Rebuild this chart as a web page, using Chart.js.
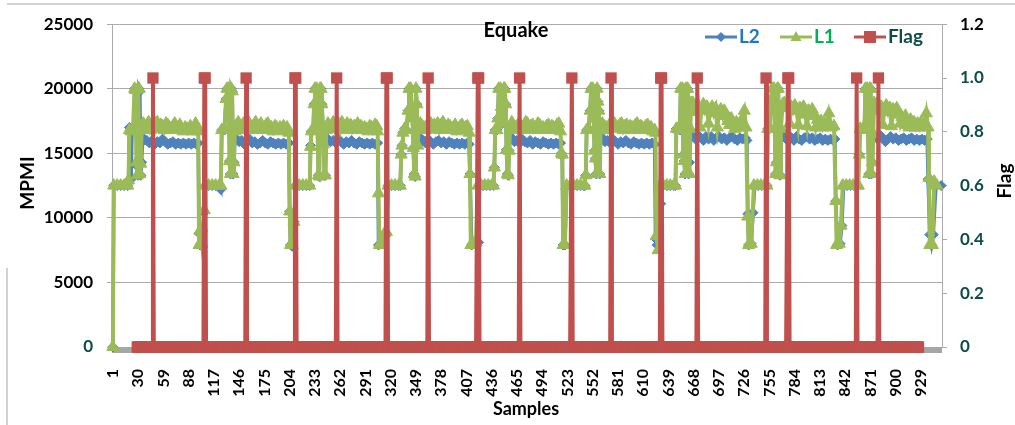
<!DOCTYPE html>
<html>
<head>
<meta charset="utf-8">
<title>Equake</title>
<script src="https://cdn.jsdelivr.net/npm/chart.js@4.4.1/dist/chart.umd.min.js"></script>
<style>
  html, body { margin: 0; padding: 0; background: #fff; }
  #wrap { width: 1015px; height: 425px; }
</style>
</head>
<body>
<div id="wrap"><canvas id="chart" width="1015" height="425"></canvas></div>
<script>
// sample numbers printed under the x axis
const xTickLabels = [1, 30, 59, 88, 117, 146, 175, 204, 233, 262, 291, 320, 349, 378, 407, 436, 465,
  494, 523, 552, 581, 610, 639, 668, 697, 726, 755, 784, 813, 842, 871, 900, 929];

// L2 readings, [sample, MPMI]
const l2Points = [
  [1,0],[2,12500],[6,12500],[10,12500],[14,12500],[18,12500],
  [19,12900],[20,17000],[22,13000],[23,16800],[25,16800],[26,20000],[28,20000],[29,14000],[30,13300],[31,20000],[32,19800],[33,13300],[34,14300],[35,15900],
  [37,16100],[40,16000],[43,15800],[46,16000],[49,15700],[52,15900],[55,15800],[58,16100],[61,15900],[64,15700],[67,15800],[70,15900],[73,15700],[76,15800],[79,15700],[82,15800],[85,15700],[88,15800],[91,15700],[94,15800],[97,15700],[99,15800],
  [100,8800],[101,7900],[104,9000],[106,10400],[107,12500],[111,12500],[115,12500],[119,12500],[123,12500],
  [125,12200],[126,16800],[129,16800],[131,19200],[132,20000],[134,20000],[135,14400],[136,13400],[137,20000],[138,19800],[139,13400],[140,14300],[141,16000],
  [143,16100],[146,15900],[149,16000],[152,15700],[155,15900],[158,16100],[161,15800],[164,15900],[167,15700],[170,15800],[173,16000],[176,15800],[179,15700],[182,15900],[185,15800],[188,15700],[191,15800],[194,15700],[197,15800],[200,15700],[203,15800],
  [204,10500],[205,7900],[207,7800],[209,9700],[211,12500],[215,12500],[219,12500],[223,12500],[227,12500],
  [228,15600],[229,16700],[231,16800],[232,18800],[233,20000],[235,20000],[236,16800],[237,13300],[238,13200],[239,20000],[240,20000],[241,18800],[243,15700],[244,13300],[245,13300],[246,16000],
  [248,16100],[251,15900],[254,16000],[257,15800],[260,16100],[263,15900],[266,15700],[269,15900],[272,15800],[275,16000],[278,15800],[281,15700],[284,15900],[287,15800],[290,15700],[293,15800],[296,15700],[299,15800],[302,15700],[305,15800],
  [306,7900],[309,8000],[313,8800],[315,8800],[317,12500],[321,12500],[325,12500],[329,12500],
  [331,12500],[332,14900],[333,15600],[334,16600],[336,16900],[338,16800],[340,18300],[341,20000],[343,20000],[345,17700],[346,15400],[347,13400],[348,13200],[349,20000],[350,18800],[351,15600],[352,16100],
  [354,16200],[357,16000],[360,15800],[363,16100],[366,15900],[369,15700],[372,15900],[375,16000],[378,15800],[381,15900],[384,15700],[387,15900],[390,15800],[393,15700],[396,15800],[399,15700],[402,15800],[405,15700],[408,15800],[410,15700],
  [411,13400],[413,7900],[419,8000],[421,8100],[422,12500],[426,12500],[430,12500],[434,12500],[438,12500],
  [439,13900],[440,16800],[442,16800],[443,17700],[444,20000],[446,20000],[447,18600],[448,17300],[450,20000],[451,20000],[452,18800],[453,15300],[454,13400],[455,13300],[456,15200],[457,16100],
  [459,16200],[462,15900],[465,16000],[468,15800],[471,16100],[474,15900],[477,15800],[480,16000],[483,15700],[486,15900],[489,15800],[492,15700],[495,15900],[498,15800],[501,15700],[504,15800],[507,15700],[510,15800],[513,15700],[515,15800],
  [516,15000],[517,14800],[518,7900],[520,7900],[522,12500],[526,12500],[530,12500],[534,12500],[538,12500],[542,12500],
  [543,12500],[544,13300],[545,16800],[547,16900],[549,18300],[550,20000],[552,20000],[553,17700],[554,15200],[555,14600],[556,13400],[557,20000],[558,19000],[559,18300],[560,13400],[561,16100],
  [563,16200],[566,15900],[569,16000],[572,15800],[575,16100],[578,15900],[581,15700],[584,15900],[587,15800],[590,16000],[593,15800],[596,15700],[599,15900],[602,15800],[605,15700],[608,15800],[611,15700],[614,15800],[617,15700],[620,15800],[623,15700],
  [624,8400],[626,7900],[628,8300],[630,11100],[632,12500],[637,12500],[641,12500],[645,12500],
  [647,12500],[648,16900],[650,16900],[652,16800],[653,20000],[655,20000],[656,14900],[657,14400],[658,13400],[659,20000],[661,20000],[662,13400],[663,14300],[664,16300],
  [667,16300],[670,16100],[673,16400],[676,16200],[679,16000],[682,16300],[685,16100],[688,16300],[691,16000],[694,16200],[697,16300],[700,16100],[703,16200],[706,16000],[709,16200],[712,16300],[715,16100],[718,16000],[721,16200],[724,16100],[727,16200],[729,16000],
  [730,10300],[731,7900],[734,8000],[736,10400],[738,12500],[742,12500],[746,12500],[750,12500],[752,12500],
  [753,16900],[755,16900],[757,19200],[758,20000],[760,20000],[761,16900],[762,13400],[763,14300],[764,20000],[765,20000],[766,13400],[767,13300],[768,16300],
  [771,16300],[774,16100],[777,16400],[780,16200],[783,16000],[786,16300],[789,16100],[792,16000],[795,16200],[798,16300],[801,16100],[804,16200],[807,16000],[810,16100],[813,16200],[816,16000],[819,16100],[822,16000],[825,16100],[828,16000],[830,16100],
  [831,11300],[833,7900],[836,8000],[838,9400],[840,12500],[844,12500],[848,12500],[852,12500],[856,12500],
  [858,14900],[859,16900],[862,16900],[864,17000],[865,20000],[867,20000],[868,16800],[869,13400],[870,20000],[871,20000],[872,13400],[873,14300],[874,16300],
  [876,16300],[879,16100],[882,16400],[885,16200],[888,15900],[891,16100],[894,16300],[897,16100],[900,16200],[903,16000],[906,16100],[909,16200],[912,16000],[915,16100],[918,16200],[921,16000],[924,16100],[927,16000],[930,16100],[933,16000],[936,16100],
  [937,13000],[939,8700],[941,7900],[943,8700],[946,12500],[952,12500]
];

// L1 readings, [sample, MPMI]
const l1Points = [
  [1,0],[2,12500],[6,12500],[10,12500],[14,12500],[18,12500],
  [19,12900],[20,16800],[22,16700],[24,16800],[26,20000],[27,19900],[28,14300],[29,13300],[30,20000],[31,20000],[32,13400],[33,14200],[34,16800],
  [36,17300],[38,16900],[40,17200],[42,17400],[44,16800],[46,17100],[48,17000],[50,17300],[52,17400],[54,16900],[56,17200],[58,17100],[60,16800],[62,17300],[64,17200],[66,17000],[68,16800],[70,17100],[72,17300],[74,16900],[76,17000],[78,17200],[80,16800],[82,16700],[84,17000],[86,16900],[88,16800],[90,17100],[92,16700],[94,16900],[96,17300],[98,17000],[99,16700],
  [100,7900],[101,9000],[103,8000],[106,10600],[107,12500],[111,12500],[115,12500],[119,12500],[123,12500],
  [125,12500],[126,16800],[129,16800],[131,19200],[132,20000],[134,20000],[135,14400],[136,13400],[137,20000],[138,19800],[139,13400],[140,14300],[141,16700],
  [143,17200],[145,17400],[147,16900],[149,17100],[151,17300],[153,16800],[155,17200],[157,17400],[159,17000],[161,16800],[163,17200],[165,17400],[167,16900],[169,17100],[171,17300],[173,16800],[175,17000],[177,17200],[179,17300],[181,16900],[183,17000],[185,16700],[187,17100],[189,17000],[191,16800],[193,17000],[195,16900],[197,17100],[199,16700],[201,17000],[203,16600],
  [204,10500],[205,7900],[207,7900],[209,9700],[211,12500],[215,12500],[219,12500],[223,12500],[227,12500],
  [228,15500],[229,16700],[231,16800],[232,18800],[233,20000],[235,20000],[236,16800],[237,13300],[238,13200],[239,20000],[240,20000],[241,18800],[243,15700],[244,13300],[245,13300],[246,16800],
  [248,17300],[250,17100],[252,16900],[254,17400],[256,17200],[258,17000],[260,17300],[262,16800],[264,17400],[266,17100],[268,17000],[270,17300],[272,16900],[274,17200],[276,16800],[278,17100],[280,17000],[282,17300],[284,16900],[286,17100],[288,16800],[290,17000],[292,16900],[294,16700],[296,17100],[298,17000],[300,16800],[302,17200],[304,17100],[305,16700],
  [306,11900],[307,7900],[310,7900],[313,8800],[315,8900],[317,12500],[321,12500],[325,12500],[329,12500],
  [331,12500],[332,14900],[333,15600],[334,16600],[336,16900],[338,16800],[340,18300],[341,20000],[343,20000],[345,17700],[346,15400],[347,13400],[348,13200],[349,20000],[350,18800],[351,15600],[352,16800],
  [354,17300],[356,17100],[358,17000],[360,16800],[362,17200],[364,17400],[366,17300],[368,16900],[370,17200],[372,17100],[374,17300],[376,16800],[378,17200],[380,17400],[382,17000],[384,16900],[386,17200],[388,17100],[390,16800],[392,17000],[394,17200],[396,16700],[398,16900],[400,17100],[402,17200],[404,16800],[406,17000],[408,17100],[410,16600],
  [411,13400],[412,7900],[415,8000],[418,8100],[420,12500],[424,12500],[428,12500],[432,12500],[436,12500],
  [438,12500],[439,13900],[440,16800],[442,16800],[443,17700],[444,20000],[446,20000],[447,18600],[448,17300],[450,20000],[451,20000],[452,18800],[453,15300],[454,13400],[455,13300],[456,15200],[457,16800],
  [459,17400],[461,17100],[463,17000],[465,16900],[467,17300],[469,17200],[471,16800],[473,17100],[475,17400],[477,17300],[479,16900],[481,17100],[483,17200],[485,16800],[487,17000],[489,17300],[491,17200],[493,16900],[495,17000],[497,16800],[499,17100],[501,17200],[503,16900],[505,17100],[507,17000],[509,16800],[511,17200],[513,17300],[515,16700],
  [516,15000],[517,14900],[518,7900],[520,7900],[522,12500],[526,12500],[530,12500],[534,12500],[538,12500],[542,12500],
  [543,12500],[544,13300],[545,16800],[547,16900],[549,18300],[550,20000],[552,20000],[553,17700],[554,15200],[555,14600],[556,13400],[557,20000],[558,19000],[559,18300],[560,13400],[561,16800],
  [563,17300],[565,17100],[567,17000],[569,16800],[571,17200],[573,17100],[575,17400],[577,17300],[579,16900],[581,17000],[583,17200],[585,17300],[587,16800],[589,17100],[591,17200],[593,16900],[595,17100],[597,17000],[599,16800],[601,17200],[603,17300],[605,16900],[607,17100],[609,17000],[611,16800],[613,17100],[615,17200],[617,16900],[619,17000],[621,16700],[623,16800],
  [624,16600],[625,8600],[627,7500],[629,12500],[633,12500],[637,12500],[641,12500],[645,12500],
  [647,12500],[648,16900],[650,16900],[652,16800],[653,20000],[655,20000],[656,14900],[657,14400],[658,13400],[659,20000],[661,20000],[662,13400],[663,13400],[664,16900],[665,18900],
  [667,18900],[669,18600],[671,18200],[673,18700],[675,17000],[677,18500],[679,18800],[681,18300],[683,18600],[685,17300],[687,18400],[689,18600],[691,18100],[693,18500],[695,17000],[697,18200],[699,18400],[701,17900],[703,18300],[705,18000],[707,17500],[709,17200],[711,17700],[713,17300],[715,16900],[717,17400],[719,17000],[721,17300],[723,17600],[726,18300],[728,17000],
  [730,10100],[731,7900],[734,8000],[737,12500],[741,12500],[745,12500],[749,12500],[752,12500],
  [753,16900],[755,16900],[757,19200],[758,20000],[760,20000],[761,16900],[762,13400],[763,14300],[764,20000],[765,20000],[766,13400],[767,13300],[768,16900],[770,18800],
  [772,18900],[774,18500],[776,18700],[778,17300],[780,18600],[782,18300],[784,18700],[786,18400],[788,17200],[790,18500],[792,18200],[794,18600],[796,18000],[798,17100],[800,18300],[802,18000],[804,18400],[806,17900],[808,17000],[810,17600],[812,17200],[814,17500],[816,17000],[818,17300],[820,17100],[823,18100],[826,17000],[829,17100],
  [831,11300],[832,7900],[835,8000],[837,9400],[839,12500],[843,12500],[847,12500],[851,12500],[855,12500],
  [857,12500],[858,14900],[859,16900],[862,16900],[864,17000],[865,20000],[867,20000],[868,16800],[869,13400],[870,20000],[871,20000],[872,13400],[873,14300],[874,16500],[875,18900],
  [877,18700],[879,18900],[881,18300],[883,18600],[885,17200],[887,18500],[889,18700],[891,18200],[893,18500],[895,17100],[897,18400],[899,18100],[901,18500],[903,18000],[905,17300],[907,17800],[909,17500],[911,17900],[913,17200],[915,17000],[917,17600],[919,17200],[921,17400],[923,17000],[925,17300],[927,17000],[929,17400],[931,17100],[933,17300],[935,18100],[937,17000],
  [938,13100],[939,7900],[942,7900],[944,12800],[947,12500]
];

// Flag: 0 from flagFirst to flagLast, 1 at the listed samples
const flagFirst = 29;
const flagLast = 926;
const flagOnSamples = [47, 106, 107, 154, 210, 211, 258, 315, 316, 363, 420, 421, 468, 528, 573,
  630, 631, 672, 751, 776, 777, 855, 880];

const FONT = 'Lato, "Open Sans", sans-serif';
const teal = '#0d4d4a';
const gridGray = '#ababab';
const blue = '#4f81bd';
const green = '#9bbb59';
const red = '#c0504d';

Chart.defaults.font.family = FONT;

const toXY = pts => pts.map(p => ({ x: p[0], y: p[1] }));

const flagPoints = [];
for (let s = flagFirst; s <= flagLast; s++) {
  flagPoints.push({ x: s, y: flagOnSamples.includes(s) ? 1 : 0 });
}

function drawMarker(ctx, style, x, y, color) {
  ctx.fillStyle = color;
  ctx.beginPath();
  if (style === 'diamond') {
    ctx.moveTo(x - 5, y); ctx.lineTo(x, y - 5); ctx.lineTo(x + 5, y); ctx.lineTo(x, y + 5);
  } else if (style === 'triangle') {
    ctx.moveTo(x, y - 6); ctx.lineTo(x + 5.5, y + 4); ctx.lineTo(x - 5.5, y + 4);
  } else {
    ctx.rect(x - 6, y - 6, 12, 12);
  }
  ctx.closePath();
  ctx.fill();
}

const legendItems = [
  { label: 'L2', color: blue, textColor: '#1f77c6', style: 'diamond', x: 705 },
  { label: 'L1', color: green, textColor: '#00b050', style: 'triangle', x: 780 },
  { label: 'Flag', color: red, textColor: teal, style: 'square', x: 854 }
];

const decor = {
  id: 'decor',
  beforeDraw(chart) {
    const ctx = chart.ctx;
    ctx.save();
    ctx.fillStyle = '#fff';
    ctx.fillRect(0, 0, chart.width, chart.height);
    ctx.strokeStyle = '#d2d2d2';
    ctx.lineWidth = 2;
    ctx.beginPath();
    ctx.moveTo(7, 4); ctx.lineTo(1015, 4);
    ctx.moveTo(7, 268); ctx.lineTo(7, 425);
    ctx.stroke();
    ctx.restore();
  },
  beforeDatasetsDraw(chart) {
    const { ctx, chartArea } = chart;
    ctx.save();
    ctx.fillStyle = '#a6a6a6';
    ctx.fillRect(chartArea.left, chartArea.bottom, chartArea.right - chartArea.left, 6);
    ctx.restore();
  },
  afterDraw(chart) {
    const ctx = chart.ctx;
    ctx.save();
    ctx.fillStyle = '#000';
    ctx.textAlign = 'center';
    ctx.textBaseline = 'alphabetic';
    ctx.font = 'bold 20px ' + FONT;
    ctx.fillText('Equake', 516, 37);
    ctx.font = 'bold 18px ' + FONT;
    ctx.fillText('Samples', 526, 415);

    ctx.font = 'bold 19px ' + FONT;
    ctx.textBaseline = 'middle';
    [['MPMI', 28, 183], ['Flag', 1005, 181]].forEach(([t, x, y]) => {
      ctx.save();
      ctx.translate(x, y);
      ctx.rotate(-Math.PI / 2);
      ctx.fillText(t, 0, 0);
      ctx.restore();
    });

    // legend, Excel style: short line with the marker in the middle
    ctx.textAlign = 'left';
    ctx.textBaseline = 'alphabetic';
    legendItems.forEach(it => {
      ctx.strokeStyle = it.color;
      ctx.lineWidth = 3;
      ctx.beginPath();
      ctx.moveTo(it.x, 37);
      ctx.lineTo(it.x + 32, 37);
      ctx.stroke();
      drawMarker(ctx, it.style, it.x + 16, 37, it.color);
      ctx.fillStyle = it.textColor;
      ctx.fillText(it.label, it.x + 34, 43);
    });
    ctx.restore();
  }
};

new Chart(document.getElementById('chart'), {
  type: 'line',
  data: {
    datasets: [
      {
        label: 'L2',
        data: toXY(l2Points),
        yAxisID: 'y',
        order: 3,
        borderColor: blue,
        backgroundColor: blue,
        borderWidth: 3.5,
        pointStyle: 'rectRot',
        pointRadius: 5,
        pointBorderWidth: 1,
        pointBorderColor: blue,
        tension: 0,
        clip: false
      },
      {
        label: 'L1',
        data: toXY(l1Points),
        yAxisID: 'y',
        order: 2,
        borderColor: green,
        backgroundColor: green,
        borderWidth: 4,
        pointStyle: 'triangle',
        pointRadius: 7,
        pointBorderWidth: 1,
        pointBorderColor: green,
        tension: 0,
        clip: false
      },
      {
        label: 'Flag',
        data: flagPoints,
        yAxisID: 'y2',
        order: 1,
        borderColor: red,
        backgroundColor: red,
        borderWidth: 4,
        pointStyle: 'rect',
        pointRadius: 8,
        pointBorderWidth: 0,
        tension: 0,
        clip: false
      }
    ]
  },
  options: {
    responsive: false,
    animation: false,
    events: [],
    devicePixelRatio: 1,
    layout: { padding: { top: 16, left: 0, right: 0, bottom: 0 } },
    plugins: {
      legend: { display: false },
      title: { display: false },
      tooltip: { enabled: false }
    },
    scales: {
      x: {
        type: 'linear',
        min: 0,
        max: 953,
        grid: { display: false },
        border: { display: false },
        afterBuildTicks: scale => {
          scale.ticks = xTickLabels.map(v => ({ value: v }));
        },
        afterFit: scale => { scale.height = 78; },
        ticks: {
          autoSkip: false,
          maxRotation: 90,
          minRotation: 90,
          padding: 14,
          color: '#000',
          font: { size: 16, weight: 'bold' },
          callback: v => String(v)
        }
      },
      y: {
        position: 'left',
        min: 0,
        max: 25000,
        afterFit: scale => { scale.width = 112; },
        grid: { color: gridGray, lineWidth: 1, drawTicks: true, tickLength: 5 },
        border: { color: gridGray, width: 1 },
        ticks: {
          stepSize: 5000,
          padding: 14,
          font: { size: 17, weight: 'bold' },
          color: c => (c.tick && c.tick.value === 0 ? teal : '#000'),
          callback: v => String(v)
        }
      },
      y2: {
        position: 'right',
        min: 0,
        max: 1.2,
        afterFit: scale => { scale.width = 73; },
        grid: { drawOnChartArea: false, color: gridGray, drawTicks: true, tickLength: 5 },
        border: { color: gridGray, width: 1 },
        ticks: {
          stepSize: 0.2,
          padding: 13,
          font: { size: 17, weight: 'bold' },
          color: c => (c.tick && Math.abs(c.tick.value - 1.2) < 1e-6 ? '#000' : teal)
        }
      }
    }
  },
  plugins: [decor]
});
</script>
</body>
</html>
